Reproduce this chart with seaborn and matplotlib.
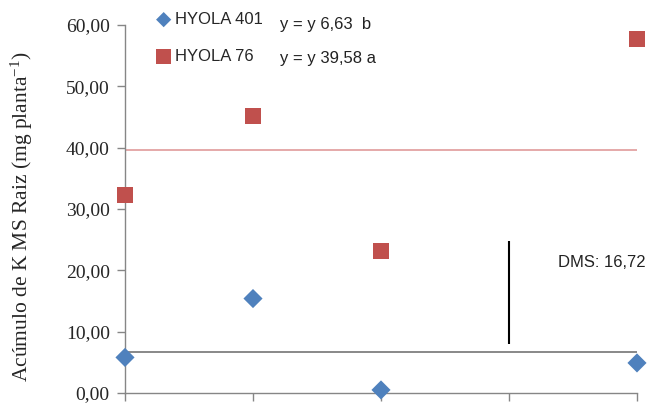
import matplotlib
matplotlib.use("Agg")
import matplotlib.pyplot as plt
import seaborn as sns
import pandas as pd
import numpy as np

# Data
x_pos = [0, 1, 2, 4]
hyola401 = [5.8, 15.4, 0.5, 4.9]
hyola76 = [32.3, 45.1, 23.2, 57.7]
mean401 = 6.63
mean76 = 39.58
dms = 16.72
dms_x = 3
dms_bottom = 8.0
yticks = [0, 10, 20, 30, 40, 50, 60]
ytick_labels = ["0,00", "10,00", "20,00", "30,00", "40,00", "50,00", "60,00"]

sns.set_theme(style="white")
plt.rcParams['font.family'] = ['Liberation Serif', 'DejaVu Serif']
plt.rcParams['mathtext.default'] = 'regular'

blue = "#4F81BD"
red = "#C0504D"
gray = "#868686"

fig = plt.figure(figsize=(6.56, 4.03), dpi=100)
W, H = 656, 403
ax = fig.add_axes([125 / W, (H - 393) / H, (637 - 125) / W, (393 - 25) / H])

df401 = pd.DataFrame({"x": x_pos, "y": hyola401})
df76 = pd.DataFrame({"x": x_pos, "y": hyola76})

ax.axhline(mean76, color="#E3A3A2", lw=1.3, zorder=1)
ax.axhline(mean401, color="#7F7F7F", lw=1.3, zorder=1)

sns.scatterplot(data=df401, x="x", y="y", ax=ax, marker="D", s=95, color=blue,
                edgecolor="none", label="HYOLA 401", clip_on=False, zorder=3)
sns.scatterplot(data=df76, x="x", y="y", ax=ax, marker="s", s=135, color=red,
                edgecolor="none", label="HYOLA 76", clip_on=False, zorder=3)

ax.vlines(dms_x, dms_bottom, dms_bottom + dms, color="black", lw=1.5, zorder=2)
ax.text(dms_x + 0.38, dms_bottom + dms - 3.4, "DMS: 16,72", family=["Liberation Sans"],
        fontsize=12, va="center", ha="left", color="#222222")

ax.set_xlim(0, 4)
ax.set_ylim(0, 60)
ax.set_xticks([0, 1, 2, 3, 4])
ax.set_xticklabels([])
ax.set_yticks(yticks)
ax.set_yticklabels(ytick_labels, fontsize=14)
ax.tick_params(axis="both", direction="out", length=6, width=1, color=gray, left=True, bottom=True)
ax.tick_params(axis="y", pad=5)
ax.set_xlabel("")
ax.set_ylabel("")
fig.text(22 / W, (H - 217) / H, "Acúmulo de K MS Raiz (mg planta$^{-1}$)", fontsize=15.5,
         rotation=90, va="center", ha="center")

for s in ["top", "right"]:
    ax.spines[s].set_visible(False)
for s in ["left", "bottom"]:
    ax.spines[s].set_color(gray)
    ax.spines[s].set_linewidth(1)

leg = ax.legend(loc="upper left", bbox_to_anchor=(157 / W, (H - 12) / H),
                bbox_transform=fig.transFigure, frameon=False,
                prop={"family": "Liberation Sans", "size": 12},
                handlelength=0.8, handletextpad=0.3, labelspacing=1.3,
                borderpad=0, borderaxespad=0)
for h in leg.legend_handles:
    h.set_clip_on(False)
leg.legend_handles[0].set_sizes([60])
leg.legend_handles[1].set_sizes([120])

fig.text(280 / W, (H - 24) / H, "y = y 6,63  b", family=["Liberation Sans"], fontsize=12,
         va="center", ha="left", color="#222222")
fig.text(280 / W, (H - 58) / H, "y = y 39,58 a", family=["Liberation Sans"], fontsize=12,
         va="center", ha="left", color="#222222")

fig.savefig("out.png", dpi=100)
